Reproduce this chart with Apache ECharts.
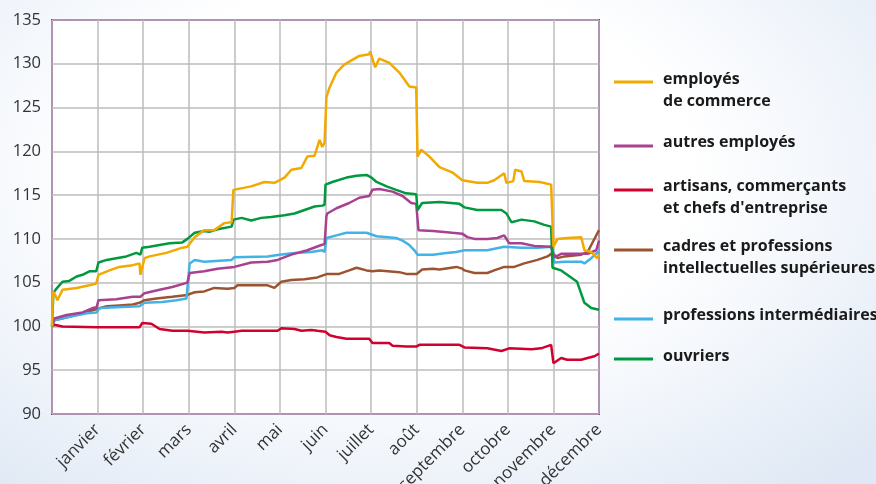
<!DOCTYPE html>
<html>
<head>
<meta charset="utf-8">
<script src="https://cdn.jsdelivr.net/npm/echarts@6/dist/echarts.min.js"></script>
<style>
html,body{margin:0;padding:0;}
body{width:876px;height:484px;overflow:hidden;
background: radial-gradient(ellipse 75% 85% at 45% 35%, #ffffff 45%, #eef3fa 75%, #dfe8f4 100%);}
#chart{width:876px;height:484px;}
</style>
</head>
<body>
<div id="chart"></div>
<script>
// Month labels (placed at the end of each month)
const months = ['janvier','février','mars','avril','mai','juin','juillet','août','septembre','octobre','novembre','décembre'];
const yTicks = [90,95,100,105,110,115,120,125,130,135];

const seriesNames = ['employés\nde commerce','autres employés','artisans, commerçants\net chefs d\'entreprise','cadres et professions\nintellectuelles supérieures','professions intermédiaires','ouvriers'];
const seriesColors = ['#f2a900','#a8418f','#d0002f','#9c5430','#41b3e6','#00993f'];

// x = month position (0 = 1 January, 12 = 31 December), y = index
const employesCommerce = [[0,100],[0.02,104],[0.07,103.6],[0.12,103],[0.23,104.2],[0.54,104.4],[0.82,104.7],[0.97,104.9],[1.02,105.9],[1.26,106.4],[1.48,106.8],[1.77,107],[1.92,107.2],[1.94,105.9],[2.03,107.8],[2.14,108],[2.51,108.4],[2.86,109],[2.97,109.1],[3.13,110.2],[3.34,111],[3.56,111],[3.78,111.8],[3.94,111.9],[3.98,115.6],[4.37,116],[4.66,116.5],[4.88,116.4],[5.1,117],[5.25,117.9],[5.47,118.1],[5.6,119.4],[5.76,119.5],[5.87,121.3],[5.93,120.5],[5.98,121],[6.02,126.2],[6.09,127.3],[6.24,129],[6.41,129.9],[6.74,130.9],[6.96,131.1],[6.98,131.4],[7.09,129.6],[7.18,130.6],[7.4,130.1],[7.62,129],[7.84,127.4],[7.99,127.3],[8.02,119.4],[8.1,120.2],[8.28,119.4],[8.5,118.2],[8.78,117.6],[9.0,116.7],[9.33,116.4],[9.55,116.4],[9.7,116.7],[9.92,117.5],[9.97,116.4],[10.12,116.6],[10.16,117.9],[10.3,117.7],[10.36,116.6],[10.7,116.5],[10.95,116.2],[11.0,109.1],[11.09,110],[11.3,110.1],[11.61,110.2],[11.68,108.7],[11.83,108.5],[11.96,107.8],[12,108.2]];
const autresEmployes = [[0,100],[0.05,100.9],[0.32,101.3],[0.67,101.6],[0.89,102.1],[0.98,102.2],[1.02,103],[1.41,103.1],[1.77,103.4],[1.94,103.4],[2.03,103.8],[2.36,104.2],[2.64,104.5],[2.97,105],[3.0,105.1],[3.02,106.1],[3.34,106.3],[3.63,106.6],[4.0,106.8],[4.37,107.3],[4.73,107.4],[4.95,107.6],[5.25,108.2],[5.6,108.7],[5.91,109.3],[5.98,109.4],[6.02,112.6],[6.04,112.9],[6.24,113.5],[6.52,114.1],[6.74,114.7],[6.96,114.9],[7.03,115.6],[7.18,115.7],[7.47,115.4],[7.69,114.9],[7.88,114.1],[7.99,114],[8.04,111],[8.36,110.9],[8.78,110.7],[9.0,110.6],[9.11,110.2],[9.27,110],[9.55,110],[9.77,110.1],[9.92,110.4],[10.03,109.5],[10.3,109.5],[10.58,109.2],[10.95,109.1],[11.02,107.9],[11.17,108.3],[11.75,108.3],[11.94,108.7],[12,109.8]];
const artisans = [[0,100],[0.05,100.2],[0.23,100],[0.98,99.9],[1.92,99.9],[1.98,100.4],[2.18,100.3],[2.36,99.7],[2.64,99.5],[2.97,99.5],[3.34,99.3],[3.72,99.4],[3.85,99.3],[4.0,99.4],[4.16,99.5],[4.95,99.5],[5.03,99.8],[5.32,99.7],[5.47,99.5],[5.69,99.6],[5.82,99.5],[6.0,99.4],[6.09,99],[6.24,98.8],[6.46,98.6],[6.96,98.6],[7.03,98.1],[7.4,98.1],[7.47,97.8],[7.77,97.7],[7.99,97.7],[8.06,97.9],[8.94,97.9],[9.05,97.6],[9.55,97.5],[9.86,97.2],[10.03,97.5],[10.52,97.4],[10.73,97.5],[10.95,97.9],[10.98,97.9],[11.0,95.8],[11.17,96.4],[11.3,96.2],[11.61,96.2],[11.75,96.4],[11.9,96.6],[12,96.9]];
const cadres = [[0,100],[0.05,100.7],[0.38,101.1],[0.67,101.5],[0.93,101.9],[1.2,102.3],[1.48,102.4],[1.77,102.5],[1.92,102.7],[2.03,103],[2.29,103.2],[2.64,103.4],[2.97,103.6],[3.13,103.9],[3.34,104],[3.56,104.4],[3.85,104.3],[4.0,104.4],[4.07,104.7],[4.73,104.7],[4.88,104.4],[5.03,105.1],[5.25,105.3],[5.54,105.4],[5.82,105.6],[6.04,106],[6.3,106],[6.52,106.4],[6.68,106.7],[6.9,106.4],[7.03,106.3],[7.18,106.4],[7.62,106.2],[7.77,106],[8.0,106],[8.12,106.5],[8.36,106.6],[8.5,106.5],[8.87,106.8],[9.0,106.6],[9.05,106.4],[9.27,106.1],[9.55,106.1],[9.7,106.4],[9.92,106.8],[10.14,106.8],[10.36,107.2],[10.65,107.6],[10.87,108],[10.98,108.4],[11.09,107.8],[11.24,108],[11.61,108.2],[11.75,108.5],[11.85,109.5],[12,111]];
const professionsInter = [[0,100],[0.05,100.7],[0.38,101.1],[0.76,101.5],[0.98,101.6],[1.04,102.1],[1.41,102.2],[1.92,102.3],[2.03,102.7],[2.42,102.8],[2.73,103],[2.95,103.2],[2.99,103],[3.02,107.2],[3.13,107.6],[3.34,107.4],[3.94,107.6],[4.0,107.9],[4.73,108],[4.99,108.2],[5.32,108.4],[5.69,108.5],[5.93,108.7],[5.98,108.5],[6.02,110.1],[6.24,110.4],[6.46,110.7],[6.9,110.7],[7.12,110.3],[7.55,110.1],[7.69,109.8],[7.84,109.3],[7.95,108.7],[8.02,108.2],[8.36,108.2],[8.65,108.4],[8.87,108.5],[9.05,108.7],[9.55,108.7],[9.92,109.1],[10.3,109],[10.65,109],[10.98,109.1],[11.02,107.3],[11.24,107.4],[11.61,107.4],[11.68,107.2],[11.83,107.8],[12,108.6]];
const ouvriers = [[0,100],[0.03,103.8],[0.08,104.2],[0.23,105.1],[0.38,105.2],[0.54,105.7],[0.67,105.9],[0.82,106.3],[0.97,106.3],[1.02,107.3],[1.2,107.6],[1.41,107.8],[1.63,108],[1.85,108.4],[1.94,108.2],[1.98,109],[2.14,109.1],[2.36,109.3],[2.58,109.5],[2.86,109.6],[2.97,110],[3.13,110.7],[3.34,110.9],[3.45,110.8],[3.63,111.1],[3.94,111.4],[3.98,112.2],[4.16,112.4],[4.37,112.1],[4.59,112.4],[4.81,112.5],[5.1,112.7],[5.32,112.9],[5.54,113.3],[5.76,113.7],[5.93,113.8],[5.98,113.9],[6.0,116.2],[6.15,116.5],[6.46,117],[6.68,117.2],[6.9,117.3],[7.01,117.0],[7.12,116.5],[7.34,116],[7.55,115.6],[7.77,115.2],[7.99,115.1],[8.02,113.3],[8.12,114.1],[8.5,114.2],[8.94,114],[9.05,113.6],[9.33,113.3],[9.86,113.3],[9.97,112.9],[10.08,111.9],[10.3,112.2],[10.58,112],[10.8,111.6],[10.95,111.4],[10.98,106.7],[11.17,106.4],[11.52,105.1],[11.68,102.7],[11.83,102.1],[12,101.9]];

const seriesData = [employesCommerce, autresEmployes, artisans, cadres, professionsInter, ouvriers];
// draw order (back to front)
const drawOrder = [2,3,4,1,5,0];

const chart = echarts.init(document.getElementById('chart'), null, {renderer:'canvas'});

const legendTop = [68, 131, 175, 235, 304, 345];
const legendLineY = [82, 146, 190, 250, 319, 359];
const graphics = [];
seriesNames.forEach((n,i)=>{
  graphics.push({type:'line', shape:{x1:614,y1:legendLineY[i],x2:653,y2:legendLineY[i]}, style:{stroke:seriesColors[i], lineWidth:3}});
  graphics.push({type:'text', left:663, top:legendTop[i], style:{text:n, fill:'#1a1a1a', font:'bold 16px "Open Sans"', lineHeight:22.5}});
});

chart.setOption({
  animation:false,
  backgroundColor:'transparent',
  grid:{left:52, right:277, top:20, bottom:70, containLabel:false, outerBoundsMode:'none',
    show:true, backgroundColor:'#ffffff', borderColor:'#8e1a8e', borderWidth:2},
  xAxis:{type:'value', min:0, max:12, interval:1,
    axisLine:{show:false}, axisTick:{show:false},
    splitLine:{show:true, lineStyle:{color:'#bdbdbd', width:1.5}},
    axisLabel:{rotate:45, margin:13, color:'#333', fontSize:17, fontFamily:'"Open Sans"',
      formatter:v=> (v>=1 && v<=12) ? months[Math.round(v)-1] : ''}
  },
  yAxis:{type:'value', min:yTicks[0], max:yTicks[yTicks.length-1], interval:5,
    axisLine:{show:false}, axisTick:{show:false},
    splitLine:{show:true, lineStyle:{color:'#bdbdbd', width:1.5}},
    axisLabel:{margin:11, color:'#333', fontSize:16.5, fontFamily:'"Open Sans"'}
  },
  graphic:graphics,
  series: drawOrder.map(i=>({
    type:'line', name:seriesNames[i], data:seriesData[i], showSymbol:false, symbol:'none',
    lineStyle:{color:seriesColors[i], width:2.5}, z:2+drawOrder.indexOf(i)
  }))
});
</script>
</body>
</html>
